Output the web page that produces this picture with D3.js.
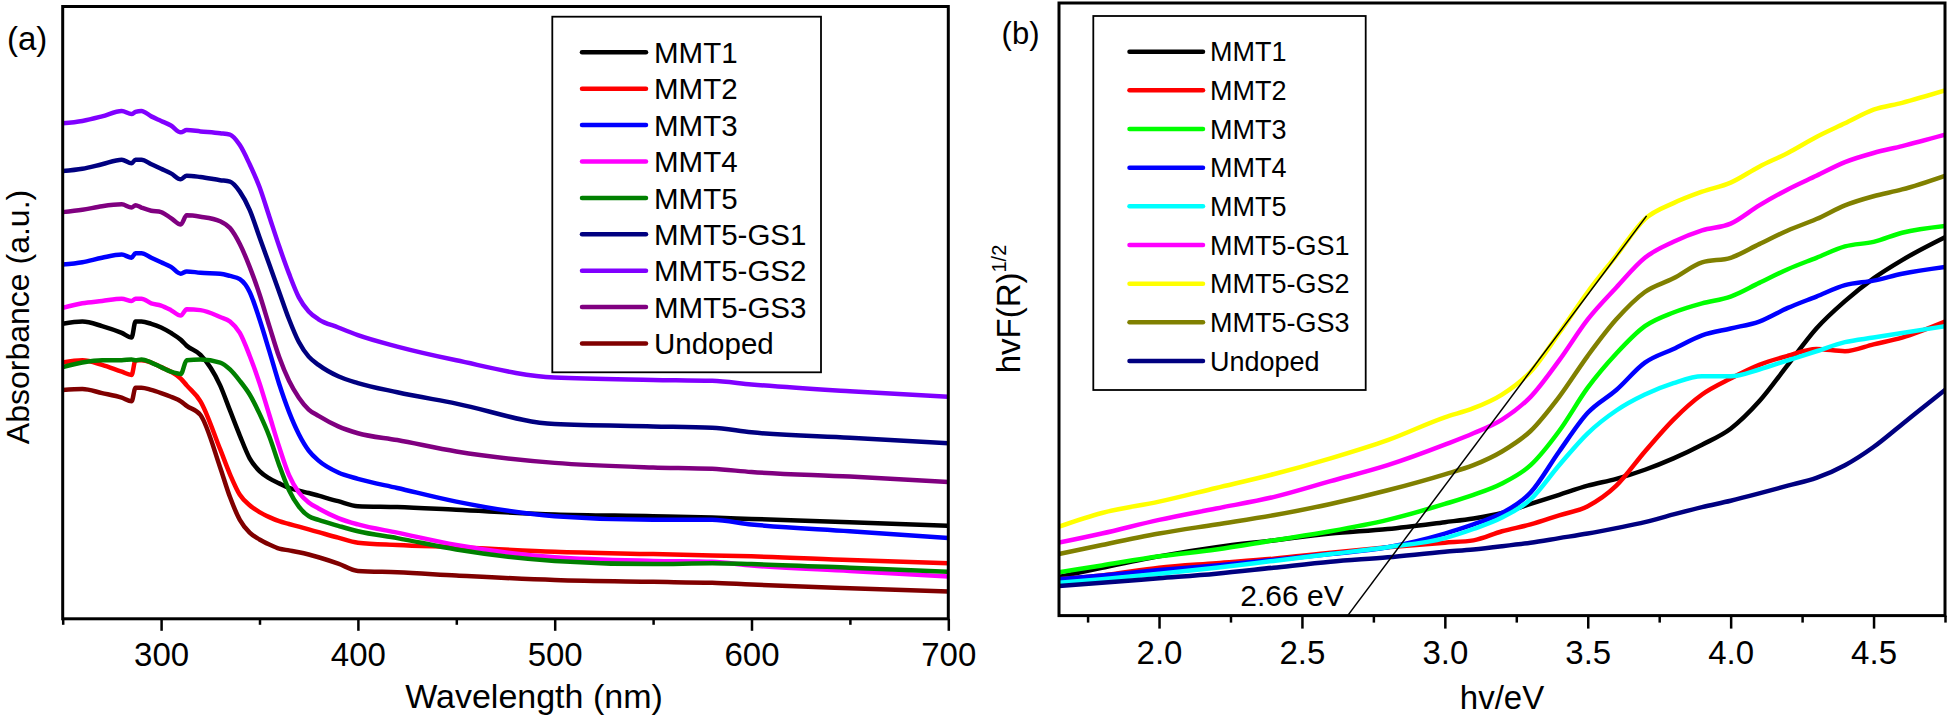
<!DOCTYPE html>
<html><head><meta charset="utf-8">
<script src="https://cdn.jsdelivr.net/npm/d3@7"></script>
<style>
html,body{margin:0;padding:0;background:#fff;}
svg{display:block;font-family:"Liberation Sans",Arial,Helvetica,sans-serif;}
</style></head><body>
<svg id="chart" width="1947" height="715"></svg>
<script>
// ---------- Panel (a) data: absorbance (a.u.) vs wavelength ----------
const wavelength = [250,260,270,280,285,287,290,295,300,305,310,313,320,330,335,340,345,350,355,360,365,370,375,380,390,400,420,450,500,550,580,600,650,700];
const absMMT1 = [0.647,0.652,0.642,0.627,0.617,0.652,0.652,0.647,0.639,0.627,0.612,0.599,0.579,0.512,0.457,0.402,0.352,0.324,0.308,0.297,0.287,0.281,0.276,0.270,0.258,0.247,0.245,0.239,0.229,0.225,0.222,0.219,0.212,0.204];
const absMMT2 = [0.562,0.567,0.557,0.542,0.535,0.567,0.567,0.562,0.552,0.542,0.527,0.512,0.477,0.372,0.317,0.272,0.249,0.234,0.223,0.214,0.208,0.202,0.196,0.190,0.178,0.167,0.162,0.157,0.147,0.142,0.139,0.137,0.129,0.122];
const absMMT3 = [0.777,0.782,0.792,0.799,0.792,0.802,0.802,0.792,0.782,0.772,0.757,0.762,0.759,0.757,0.752,0.745,0.717,0.657,0.587,0.515,0.454,0.405,0.369,0.347,0.321,0.307,0.287,0.257,0.225,0.217,0.217,0.207,0.192,0.177];
const absMMT4 = [0.682,0.692,0.697,0.702,0.697,0.702,0.702,0.692,0.687,0.677,0.665,0.679,0.677,0.662,0.652,0.627,0.577,0.517,0.447,0.377,0.315,0.277,0.255,0.242,0.221,0.207,0.189,0.162,0.135,0.127,0.125,0.117,0.105,0.093];
const absMMT5 = [0.552,0.562,0.567,0.567,0.569,0.567,0.569,0.562,0.552,0.542,0.537,0.567,0.569,0.562,0.547,0.522,0.492,0.450,0.400,0.337,0.282,0.246,0.225,0.217,0.204,0.192,0.177,0.152,0.127,0.120,0.122,0.120,0.112,0.103];
const absGS1 = [0.982,0.987,0.997,1.007,0.999,1.007,1.007,0.997,0.987,0.977,0.964,0.972,0.969,0.962,0.959,0.937,0.897,0.837,0.777,0.717,0.657,0.607,0.575,0.557,0.532,0.517,0.497,0.472,0.427,0.422,0.419,0.409,0.397,0.385];
const absGS2 = [1.087,1.092,1.102,1.114,1.107,1.112,1.114,1.102,1.092,1.082,1.067,1.072,1.069,1.065,1.062,1.039,0.997,0.947,0.882,0.817,0.757,0.705,0.674,0.657,0.639,0.622,0.597,0.567,0.529,0.524,0.522,0.514,0.499,0.487];
const absGS3 = [0.892,0.897,0.905,0.909,0.902,0.907,0.902,0.895,0.892,0.879,0.865,0.885,0.882,0.872,0.857,0.822,0.772,0.712,0.642,0.574,0.522,0.485,0.459,0.445,0.422,0.407,0.392,0.367,0.342,0.332,0.329,0.322,0.312,0.300];
const absUndoped = [0.502,0.504,0.495,0.485,0.477,0.507,0.507,0.502,0.495,0.487,0.477,0.467,0.447,0.332,0.267,0.217,0.189,0.174,0.163,0.154,0.150,0.146,0.141,0.135,0.121,0.105,0.102,0.095,0.085,0.081,0.079,0.075,0.067,0.060];
const namesA = ["MMT1","MMT2","MMT3","MMT4","MMT5","MMT5-GS1","MMT5-GS2","MMT5-GS3","Undoped"];
const colorsA = ["#000000","#ff0000","#0000ff","#ff00ff","#008000","#000080","#8000ff","#800080","#800000"];
const ticksA = [300,400,500,600,700];
const minorTicksA = [250,350,450,550,650];

// ---------- Panel (b) data: hvF(R)^1/2 vs photon energy ----------
const energy = [1.65,1.8,2.0,2.2,2.4,2.6,2.8,3.0,3.1,3.2,3.3,3.4,3.5,3.6,3.7,3.8,3.9,4.0,4.1,4.2,4.3,4.4,4.5,4.6,4.75];
const kmMMT1 = [0.085,0.105,0.130,0.150,0.165,0.180,0.190,0.205,0.213,0.225,0.245,0.265,0.285,0.300,0.320,0.345,0.375,0.410,0.470,0.550,0.630,0.690,0.740,0.780,0.830];
const kmMMT2 = [0.080,0.088,0.105,0.115,0.125,0.138,0.150,0.160,0.165,0.185,0.200,0.220,0.240,0.285,0.360,0.430,0.485,0.520,0.550,0.570,0.585,0.580,0.595,0.610,0.645];
const kmMMT3 = [0.095,0.110,0.130,0.145,0.165,0.185,0.210,0.245,0.265,0.290,0.330,0.405,0.500,0.575,0.635,0.665,0.685,0.700,0.730,0.760,0.785,0.810,0.820,0.840,0.855];
const kmMMT4 = [0.080,0.088,0.100,0.110,0.122,0.135,0.150,0.180,0.200,0.225,0.270,0.360,0.445,0.495,0.555,0.585,0.615,0.630,0.645,0.675,0.700,0.725,0.735,0.750,0.765];
const kmMMT5 = [0.072,0.080,0.092,0.105,0.120,0.135,0.150,0.170,0.190,0.215,0.255,0.330,0.400,0.450,0.485,0.510,0.525,0.525,0.540,0.560,0.580,0.600,0.610,0.620,0.635];
const kmGS1 = [0.160,0.180,0.210,0.235,0.260,0.295,0.330,0.375,0.400,0.430,0.480,0.560,0.650,0.720,0.785,0.820,0.845,0.860,0.900,0.935,0.965,0.995,1.015,1.030,1.055];
const kmGS2 = [0.195,0.225,0.250,0.280,0.310,0.345,0.385,0.435,0.455,0.485,0.535,0.620,0.710,0.790,0.870,0.905,0.930,0.950,0.985,1.015,1.050,1.080,1.110,1.125,1.152];
const kmGS3 = [0.135,0.155,0.180,0.200,0.220,0.245,0.275,0.310,0.330,0.360,0.405,0.480,0.570,0.650,0.710,0.740,0.775,0.785,0.815,0.845,0.870,0.900,0.920,0.935,0.965];
const kmUndoped = [0.065,0.072,0.082,0.092,0.105,0.118,0.128,0.140,0.145,0.152,0.160,0.170,0.180,0.192,0.205,0.222,0.238,0.252,0.268,0.285,0.302,0.330,0.370,0.420,0.495];
const namesB = ["MMT1","MMT2","MMT3","MMT4","MMT5","MMT5-GS1","MMT5-GS2","MMT5-GS3","Undoped"];
const colorsB = ["#000000","#ff0000","#00ff00","#0000ff","#00ffff","#ff00ff","#ffff00","#808000","#000080"];
const ticksB = [2.0,2.5,3.0,3.5,4.0,4.5];
const minorTicksB = [1.75,2.25,2.75,3.25,3.75,4.25,4.75];
const tangentE = [2.66, 3.706];
const tangentV = [0.0, 0.877];
const bandGapLabel = "2.66 eV";

const seriesA = [absMMT1,absMMT2,absMMT3,absMMT4,absMMT5,absGS1,absGS2,absGS3,absUndoped];
const seriesB = [kmMMT1,kmMMT2,kmMMT3,kmMMT4,kmMMT5,kmGS1,kmGS2,kmGS3,kmUndoped];

const svg = d3.select("#chart");
const FONT = "'Liberation Sans', Arial, Helvetica, sans-serif";

function panel(cfg){
  const g = svg.append("g");
  const x = d3.scaleLinear().domain(cfg.xDomain).range([cfg.left, cfg.right]);
  const y = d3.scaleLinear().domain(cfg.yDomain).range([cfg.bottom, cfg.top]);
  const clipId = "clip" + cfg.id;
  svg.append("clipPath").attr("id", clipId).append("rect")
    .attr("x", cfg.left).attr("y", cfg.top).attr("width", cfg.right-cfg.left).attr("height", cfg.bottom-cfg.top);

  // curves
  const line = d3.line().x(d=>x(d[0])).y(d=>y(d[1])).curve(d3.curveMonotoneX);
  const cg = g.append("g").attr("clip-path", `url(#${clipId})`);
  cfg.series.forEach((vals,i)=>{
    cg.append("path").datum(cfg.xs.map((v,j)=>[v, vals[j]]))
      .attr("d", line).attr("fill","none").attr("stroke", cfg.colors[i])
      .attr("stroke-width", 4.5).attr("stroke-linejoin","round").attr("stroke-linecap","round");
  });
  if (cfg.extra) cfg.extra(cg, x, y);

  // axes
  const ax = g.append("g").attr("transform", `translate(0,${cfg.bottom})`)
    .call(d3.axisBottom(x).tickValues(cfg.ticks).tickSize(cfg.major).tickPadding(cfg.pad).tickFormat(cfg.fmt));
  ax.select(".domain").remove();
  ax.selectAll("line").attr("stroke","#000").attr("stroke-width",2.5);
  ax.selectAll("text").attr("font-family",FONT).attr("font-size",33).attr("fill","#000");
  const mx = g.append("g").attr("transform", `translate(0,${cfg.bottom})`)
    .call(d3.axisBottom(x).tickValues(cfg.minor).tickSize(cfg.minorLen).tickFormat(""));
  mx.select(".domain").remove();
  mx.selectAll("line").attr("stroke","#000").attr("stroke-width",2.5);

  // frame
  g.append("rect").attr("x",cfg.left).attr("y",cfg.top).attr("width",cfg.right-cfg.left).attr("height",cfg.bottom-cfg.top)
    .attr("fill","none").attr("stroke","#000").attr("stroke-width",3);

  // legend
  const L = cfg.legend;
  g.append("rect").attr("x",L.x).attr("y",L.y).attr("width",L.w).attr("height",L.h)
    .attr("fill","#fff").attr("stroke","#000").attr("stroke-width",1.8);
  cfg.names.forEach((n,i)=>{
    const cy = L.row0 + i*L.step;
    g.append("line").attr("x1",L.lx1).attr("x2",L.lx2).attr("y1",cy).attr("y2",cy)
      .attr("stroke",cfg.colors[i]).attr("stroke-width",4.5).attr("stroke-linecap","round");
    g.append("text").attr("x",L.tx).attr("y",cy + L.fs*0.36).attr("font-family",FONT)
      .attr("font-size",L.fs).attr("fill","#000").text(n);
  });
  return {g,x,y};
}

// Panel (a)
const pa = panel({
  id:"a", left:62.7, right:948.3, top:6.5, bottom:618.8,
  xDomain:[250,700], yDomain:[0,1.343], xs:wavelength, series:seriesA, colors:colorsA, names:namesA,
  ticks:ticksA, minor:minorTicksA, major:12, minorLen:6, pad:12, fmt:d3.format("d"),
  legend:{x:552.3,y:16.7,w:268.7,h:355.6,row0:52.3,step:36.4,lx1:582,lx2:646,tx:654,fs:29.5}
});
svg.append("text").attr("x",7).attr("y",49.5).attr("font-family",FONT).attr("font-size",33).text("(a)");
svg.append("text").attr("x",534).attr("y",708).attr("text-anchor","middle").attr("font-family",FONT).attr("font-size",34).text("Wavelength (nm)");
svg.append("text").attr("transform","translate(29,317) rotate(-90)").attr("text-anchor","middle")
  .attr("font-family",FONT).attr("font-size",32).text("Absorbance (a.u.)");

// Panel (b)
const pb = panel({
  id:"b", left:1059, right:1945, top:3, bottom:615.6,
  xDomain:[1.65,4.75], yDomain:[0,1.344], xs:energy, series:seriesB, colors:colorsB, names:namesB,
  ticks:ticksB, minor:minorTicksB, major:13, minorLen:7, pad:12, fmt:d3.format(".1f"),
  legend:{x:1093.3,y:16,w:272.4,h:374,row0:51.7,step:38.66,lx1:1129.5,lx2:1203,tx:1210,fs:27},
  extra:(cg,x,y)=>{
    cg.append("line").attr("x1",x(tangentE[0])).attr("y1",y(tangentV[0]))
      .attr("x2",x(tangentE[1])).attr("y2",y(tangentV[1]))
      .attr("stroke","#000").attr("stroke-width",1.5);
  }
});
svg.append("text").attr("x",pb.x(2.66)-4).attr("y",606).attr("text-anchor","end")
  .attr("font-family",FONT).attr("font-size",30).text(bandGapLabel);
svg.append("text").attr("x",1001.6).attr("y",43.5).attr("font-family",FONT).attr("font-size",31).text("(b)");
svg.append("text").attr("x",1502).attr("y",709).attr("text-anchor","middle").attr("font-family",FONT).attr("font-size",33).text("hv/eV");
const yl = svg.append("text").attr("transform","translate(1020,309) rotate(-90)").attr("text-anchor","middle")
  .attr("font-family",FONT).attr("font-size",33);
yl.append("tspan").text("hvF(R)");
yl.append("tspan").attr("font-size",20).attr("dy",-14).text("1/2");
</script>
</body></html>
